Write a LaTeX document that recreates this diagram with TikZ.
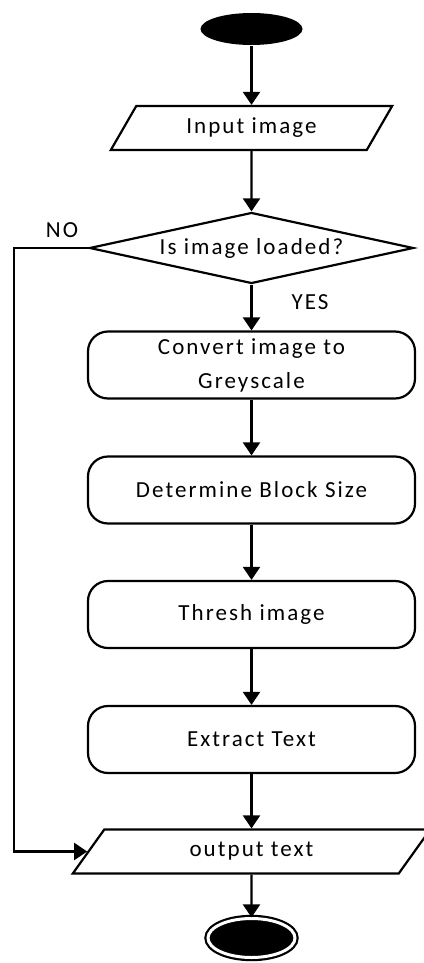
\documentclass[tikz,border=0pt]{standalone}
\usepackage{fontspec}
\setmainfont{Carlito}[LetterSpace=9]
\usetikzlibrary{shapes.geometric,arrows.meta}
\begin{document}
\begin{tikzpicture}[x=1pt,y=-1pt, line width=2.2pt,
  every node/.style={font=\fontsize{23}{34}\selectfont},
  proc/.style={draw, rounded corners=20pt, minimum width=327pt, minimum height=67pt, align=center, inner sep=0pt},
  io/.style={draw, trapezium, trapezium left angle=54, trapezium right angle=126, trapezium stretches=true, minimum height=44pt, inner sep=0pt},
  arr/.style={-{Triangle[width=17pt,length=13pt]}}]
\useasboundingbox (0,0) rectangle (423,963);
\node[ellipse, fill=black, minimum width=102pt, minimum height=32pt, inner sep=0pt] (start) at (251.5,29) {};
\node[io, minimum width=282pt] (in) at (251.5,128) {Input image};
\node[diamond, draw, aspect=4.5, minimum width=324pt, minimum height=71pt, inner sep=0pt] (dec) at (251.5,248) {Is image loaded?};
\node[proc] (p1) at (251.5,365) {Convert image to\\Greyscale};
\node[proc] (p2) at (251.5,490) {Determine Block Size};
\node[proc] (p3) at (251.5,614.5) {Thresh image};
\node[proc] (p4) at (251.5,739.5) {Extract Text};
\node[io, minimum width=358pt] (out) at (251.5,851.5) {output text};
\node[ellipse, fill=black, draw, double=white, double distance=3pt, minimum width=87pt, minimum height=39pt, inner sep=0pt] (end) at (251.5,938) {};
\node (no) at (62,230) {NO};
\node (yes) at (310,302) {YES};
\coordinate (nocorner) at (14,248);
\draw[arr] (start) -- (in);
\draw[arr] (in) -- (dec);
\draw[arr] (dec) -- (p1);
\draw[arr] (p1) -- (p2);
\draw[arr] (p2) -- (p3);
\draw[arr] (p3) -- (p4);
\draw[arr] (p4) -- (out);
\draw[arr] (out) -- (end);
\draw[arr] (dec.west) -- (nocorner) |- (out);
\end{tikzpicture}
\end{document}
